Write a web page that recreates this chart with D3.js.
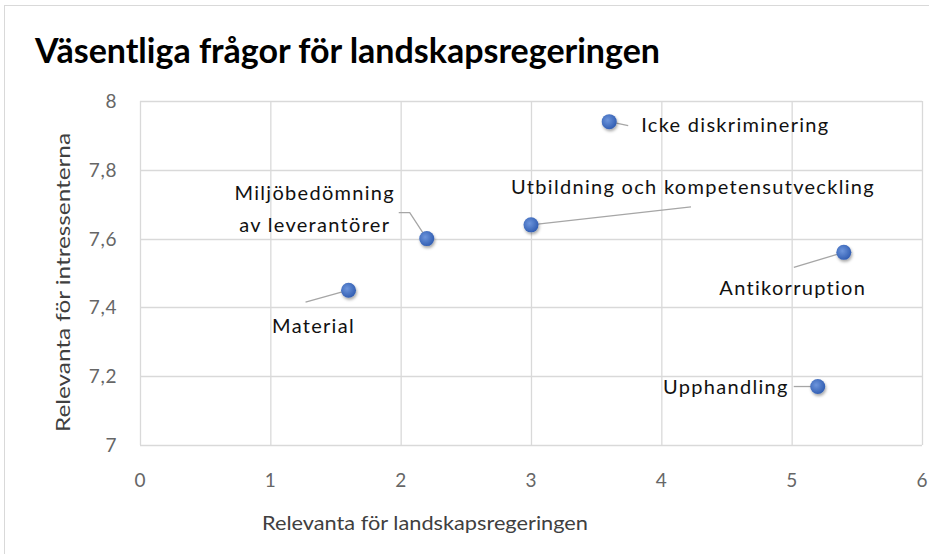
<!DOCTYPE html>
<html>
<head>
<meta charset="utf-8">
<script src="https://cdn.jsdelivr.net/npm/d3@7"></script>
<style>
  body { margin: 0; background: #fff; }
  svg { display: block; font-family: Lato, "Open Sans", sans-serif; }
</style>
</head>
<body>
<svg id="chart" width="929" height="554"></svg>
<script>
// data
const labels = ['Material', 'Miljöbedömning\nav leverantörer', 'Utbildning och kompetensutveckling',
  'Icke diskriminering', 'Antikorruption', 'Upphandling']
const xValues = [1.6, 2.2, 3.0, 3.6, 5.4, 5.2]
const yValues = [7.45, 7.6, 7.64, 7.94, 7.56, 7.17]
const xTicks = [0, 1, 2, 3, 4, 5, 6]
const yTicks = [7, 7.2, 7.4, 7.6, 7.8, 8]

// label placement relative to point (dx, dy, anchor) + leader elbow
const labelPos = [
  {dx: -35, dy: 36, anchor: 'middle', line: [[-43, 12]]},
  {dx: -112, dy: -46, anchor: 'middle', line: [[-17, -26], [-28, -26]]},
  {dx: 162, dy: -38, anchor: 'middle', line: [[160, -18]]},
  {dx: 32, dy: 3, anchor: 'start', line: [[19, 4]]},
  {dx: -51, dy: 36, anchor: 'middle', line: [[-50, 15]]},
  {dx: -29, dy: 0, anchor: 'end', line: [[-24, 0]]},
]

const width = 929, height = 554
const margin = {left: 140, right: 7, top: 101, bottom: 109}

const svg = d3.select('#chart')

svg.append('rect')
  .attr('x', 4.5).attr('y', 5.5)
  .attr('width', width + 10).attr('height', height + 10)
  .attr('fill', 'none').attr('stroke', '#d9d9d9')

const x = d3.scaleLinear().domain([0, 6]).range([margin.left, width - margin.right])
const y = d3.scaleLinear().domain([7, 8]).range([height - margin.bottom, margin.top])

svg.append('text')
  .attr('x', 35).attr('y', 63)
  .attr('font-size', 34).attr('font-weight', 'bold').attr('fill', '#000')
  .attr('textLength', 625).attr('lengthAdjust', 'spacingAndGlyphs')
  .text('Väsentliga frågor för landskapsregeringen')

// grid
svg.append('g').selectAll('line.v').data(xTicks).join('line')
  .attr('x1', d => x(d) + 0.5).attr('x2', d => x(d) + 0.5)
  .attr('y1', y(8)).attr('y2', y(7))
  .attr('stroke', '#d9d9d9').attr('stroke-width', 1.3)
svg.append('g').selectAll('line.h').data(yTicks).join('line')
  .attr('y1', d => Math.round(y(d)) + 0.5).attr('y2', d => Math.round(y(d)) + 0.5)
  .attr('x1', x(0)).attr('x2', x(6))
  .attr('stroke', '#d9d9d9').attr('stroke-width', 1.3)

// tick labels
const fmt = d => String(+d.toFixed(1)).replace('.', ',')
svg.append('g').selectAll('text').data(xTicks).join('text')
  .attr('x', d => x(d)).attr('y', 487)
  .attr('text-anchor', 'middle').attr('font-size', 19).attr('fill', '#666')
  .text(fmt)
svg.append('g').selectAll('text').data(yTicks).join('text')
  .attr('x', 117).attr('y', d => y(d) + 7)
  .attr('text-anchor', 'end').attr('font-size', 19).attr('fill', '#666')
  .attr('letter-spacing', 0.6)
  .text(fmt)

// axis titles
svg.append('text')
  .attr('x', 262).attr('y', 530)
  .attr('font-size', 19).attr('fill', '#404040')
  .attr('textLength', 326).attr('lengthAdjust', 'spacingAndGlyphs')
  .text('Relevanta för landskapsregeringen')
svg.append('text')
  .attr('transform', `translate(70, 432) rotate(-90)`)
  .attr('font-size', 19).attr('fill', '#404040')
  .attr('textLength', 299).attr('lengthAdjust', 'spacingAndGlyphs')
  .text('Relevanta för intressenterna')

// marker styling
const defs = svg.append('defs')
const grad = defs.append('radialGradient').attr('id', 'dot')
  .attr('cx', '40%').attr('cy', '40%').attr('r', '65%')
grad.append('stop').attr('offset', '0%').attr('stop-color', '#6d95dc')
grad.append('stop').attr('offset', '100%').attr('stop-color', '#2f5bb0')
const shadow = defs.append('filter').attr('id', 'shadow')
  .attr('x', '-50%').attr('y', '-50%').attr('width', '200%').attr('height', '200%')
shadow.append('feDropShadow').attr('dx', 1).attr('dy', 2).attr('stdDeviation', 1.6)
  .attr('flood-color', '#000').attr('flood-opacity', 0.35)

const points = labels.map((l, i) => ({label: l, x: xValues[i], y: yValues[i], pos: labelPos[i]}))

// leader lines
svg.append('g').selectAll('path').data(points).join('path')
  .attr('d', d => {
    const px = x(d.x), py = y(d.y)
    return d3.line()([[px, py], ...d.pos.line.map(([a, b]) => [px + a, py + b])])
  })
  .attr('fill', 'none').attr('stroke', '#a6a6a6').attr('stroke-width', 1.3)

svg.append('g').selectAll('circle').data(points).join('circle')
  .attr('cx', d => x(d.x)).attr('cy', d => y(d.y)).attr('r', 7.5)
  .attr('fill', 'url(#dot)').attr('filter', 'url(#shadow)')

// data labels
svg.append('g').selectAll('text').data(points).join('text')
  .attr('text-anchor', d => d.pos.anchor)
  .attr('font-size', 20).attr('fill', '#111')
  .attr('letter-spacing', 1.3)
  .each(function (d) {
    const lines = d.label.split('\n')
    const px = x(d.x) + d.pos.dx, py = y(d.y) + d.pos.dy + 7
    d3.select(this).selectAll('tspan').data(lines).join('tspan')
      .attr('x', px).attr('y', (t, i) => py + i * 32)
      .text(t => t)
  })
</script>
</body>
</html>
